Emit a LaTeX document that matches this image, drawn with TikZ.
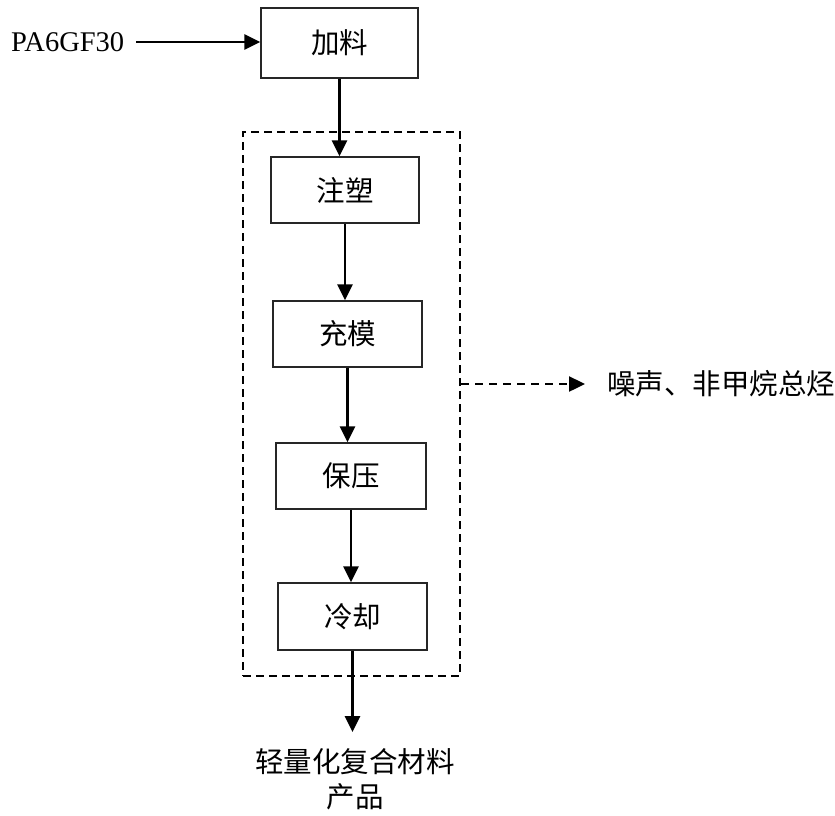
\documentclass[tikz,border=0pt]{standalone}
\usepackage{fontspec}
\setmainfont{Liberation Serif}
\newfontfamily\cjk{Noto Sans CJK SC}
\usetikzlibrary{arrows.meta}
\begin{document}
\begin{tikzpicture}[x=1pt,y=-1pt,
  proc/.style={draw=black!85,line width=1.3pt,rectangle,minimum width=149pt,minimum height=66pt,inner sep=0pt,font=\cjk\fontsize{28.5}{35}\selectfont},
  flow/.style={line width=2.9pt,-{Triangle[length=16pt,width=15pt]}},
  dflow/.style={line width=2.4pt,dash pattern=on 8pt off 6pt,-{Triangle[length=16pt,width=15pt]}},
  grpbox/.style={draw,line width=2pt,dash pattern=on 8pt off 5pt,rectangle,inner sep=0pt},
  lbl/.style={font=\cjk\fontsize{28.5}{35}\selectfont,inner sep=0pt,align=center}]
\useasboundingbox (0,0) rectangle (835,815);
\node[grpbox,minimum width=217pt,minimum height=544pt] (grp) at (351.5,404) {};
\node[font=\fontsize{28.5}{32}\selectfont,anchor=west,inner sep=0pt] (pa) at (11,42) {PA6GF30};
\node[proc,minimum width=157pt,minimum height=70pt] (jl) at (339.5,43) {加料};
\node[proc,minimum width=148pt] (zs) at (345,190) {注塑};
\node[proc] (cm) at (347.5,334) {充模};
\node[proc,minimum width=150pt] (by) at (351,476) {保压};
\node[proc,minimum height=67pt] (lq) at (352.5,616.5) {冷却};
\node[lbl,anchor=west] (noise) at (607,384) {噪声、非甲烷总烃};
\node[lbl,anchor=north] (prod) at (355,748) {轻量化复合材料\\产品};
\draw[flow,shorten <=12pt] (pa.east) -- (jl.west |- pa.east);
\draw[flow] (jl.south) -- (jl.south |- zs.north);
\draw[flow] (zs.south) -- (zs.south |- cm.north);
\draw[flow] (cm.south) -- (cm.south |- by.north);
\draw[flow] (by.south) -- (by.south |- lq.north);
\draw[flow,shorten >=16pt] (lq.south) -- (lq.south |- prod.north);
\draw[dflow,shorten >=22pt] (grp.east |- noise.west) -- (noise.west);
\end{tikzpicture}
\end{document}
